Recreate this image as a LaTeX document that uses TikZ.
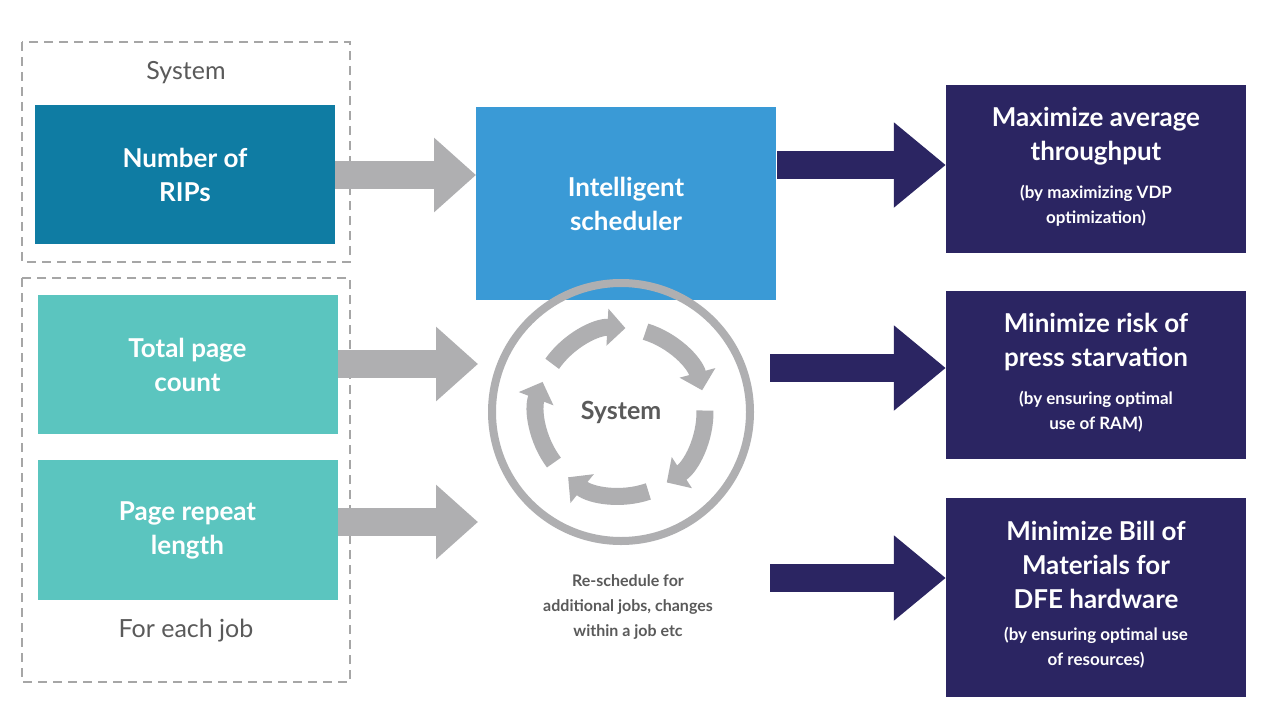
\documentclass[tikz,border=0pt]{standalone}
\usepackage{fontspec}
\setmainfont{Lato}
\usetikzlibrary{arrows.meta}
\definecolor{rip}{HTML}{0F7CA3}
\definecolor{teal}{HTML}{5BC5BF}
\definecolor{sched}{HTML}{3A9AD6}
\definecolor{navy}{HTML}{2B2562}
\definecolor{gr}{HTML}{AFAFB1}
\definecolor{txt}{HTML}{5A5A5A}
\newcommand\subf[1]{{\bfseries\fontsize{17}{25}\selectfont\begin{tabular}[t]{@{}c@{}}#1\end{tabular}}}
\begin{document}
\begin{tikzpicture}[x=1pt,y=-1pt,
  box/.style={draw=none,minimum width=300pt,align=center,text=white,font=\bfseries\fontsize{26}{34}\selectfont},
  dbox/.style={draw=gray!70,line width=2pt,dash pattern=on 9pt off 6pt},
  garr/.style={gr,line width=28pt,-{Triangle[length=42pt,width=72pt]}},
  narr/.style={navy,line width=28pt,-{Triangle[length=52pt,width=82pt]}},
  carr/.style={gr,line width=17pt,-{Triangle[length=18pt,width=36pt]}}]
\useasboundingbox (0,0) rectangle (1280,720);
\fill[white] (0,0) rectangle (1280,720);
\draw[dbox] (22,42) rectangle (350,262);
\draw[dbox] (22,278) rectangle (350,682);
\node[text=txt,font=\fontsize{25}{30}\selectfont] (ls) at (186,73) {System};
\node[text=txt,font=\fontsize{25}{30}\selectfont] (lf) at (186,631) {For each job};
\node[box,fill=rip,minimum height=139pt] (rips) at (185,174.5) {Number of\\RIPs};
\node[box,fill=teal,minimum height=139pt] (tpc) at (187.5,364.5) {Total page\\count};
\node[box,fill=teal,minimum height=140pt] (prl) at (187.5,530) {Page repeat\\length};
\node[box,fill=sched,minimum height=193pt] (sch) at (626,203.5) {Intelligent\\scheduler};
\node[box,fill=navy,minimum height=168pt] (o1) at (1096,169) {Maximize average\\throughput\\[4pt]\subf{(by maximizing VDP\\optimization)}};
\node[box,fill=navy,minimum height=168pt] (o2) at (1096,375) {Minimize risk of\\press starvation\\[4pt]\subf{(by ensuring optimal\\use of RAM)}};
\node[box,fill=navy,minimum height=199pt] (o3) at (1096,597.5) {Minimize Bill of\\Materials for\\DFE hardware\\[-2pt]\subf{(by ensuring optimal use\\of resources)}};
% cycle
\coordinate (c) at (621,412);
\draw[gr,line width=8pt] (c) circle (129);
\foreach \s in {-145,-73,-1,71,143}
  \draw[carr] ([shift={(\s:84)}]c) arc[start angle=\s,delta angle=58,radius=84];
\node[text=txt,font=\bfseries\fontsize{25}{30}\selectfont] (sys) at (c) {System};
\node[text=txt,align=center,font=\bfseries\fontsize{16}{25}\selectfont] (rs) at (628,607) {Re-schedule for\\additional jobs, changes\\within a job etc};
% arrows
\draw[garr] (rips.east|-0,175) -- (476,175);
\draw[garr] (tpc.east|-0,364) -- (478,364);
\draw[garr] (prl.east|-0,522) -- (478,522);
\draw[narr] (777,165) -- (o1.west|-0,165);
\draw[narr] (770,368) -- (o2.west|-0,368);
\draw[narr] (770,578) -- (o3.west|-0,578);
\end{tikzpicture}
\end{document}
